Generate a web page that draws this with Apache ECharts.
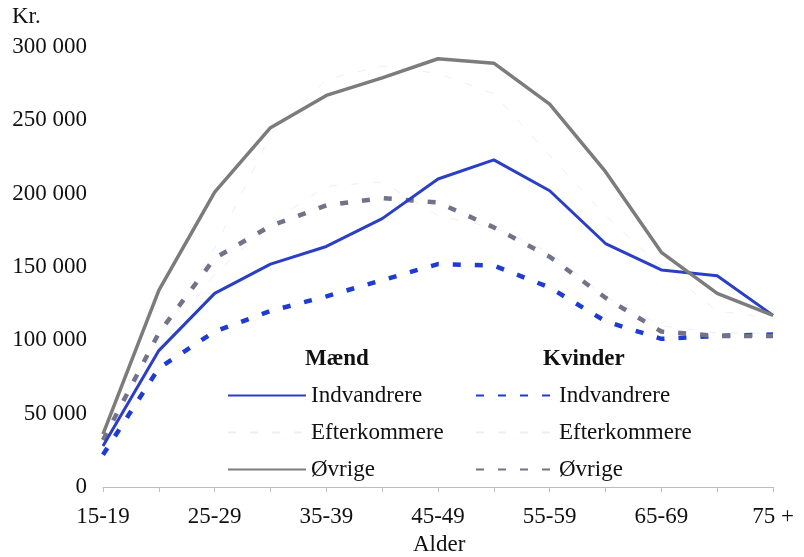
<!DOCTYPE html>
<html>
<head>
<meta charset="utf-8">
<script src="https://cdn.jsdelivr.net/npm/echarts@6/dist/echarts.min.js"></script>
<style>html,body{margin:0;padding:0;background:#fff}#c{width:804px;height:557px}</style>
</head>
<body>
<div id="c"></div>
<script>
var categories = ['15-19','20-24','25-29','30-34','35-39','40-44','45-49','50-54','55-59','60-64','65-69','70-74','75 +'];
var maendIndvandrere = [28000, 93000, 132000, 152000, 164000, 183000, 210000, 223000, 202000, 166000, 148000, 144000, 117000];
var maendEfterkommere = [30000, 100000, 163000, 240000, 278000, 287000, 282000, 268000, 226000, 185000, 150000, 120000, 115000];
var maendOevrige = [36000, 134000, 201000, 245000, 267000, 279000, 292000, 289000, 261000, 215000, 160000, 132000, 117000];
var kvinderIndvandrere = [22000, 81000, 106000, 120000, 130000, 141000, 152000, 151000, 136000, 113000, 101000, 103000, 104000];
var kvinderEfterkommere = [27000, 95000, 145000, 180000, 205000, 208000, 185000, 177000, 160000, 130000, 110000, 105000, 105000];
var kvinderOevrige = [32000, 105000, 156000, 178000, 192000, 197000, 194000, 177000, 157000, 129000, 106000, 103000, 103000];
var yTicks = [0, 50000, 100000, 150000, 200000, 250000, 300000];

var FONT = 'Liberation Serif';
var FS = 23;
function fmt(v){ return v === 0 ? '0' : String(v).replace(/\B(?=(\d{3})+(?!\d))/g, ' '); }

var chart = echarts.init(document.getElementById('c'));
function line(name, data, color, width, dashed, opacity, z){
  return {
    name: name, type: 'line', data: data, symbol: 'none', z: z,
    lineStyle: { color: color, width: width, type: dashed ? [8, 14] : 'solid', opacity: opacity, cap: 'butt' },
    itemStyle: { color: color, opacity: 0 },
    emphasis: { disabled: true }, animation: false
  };
}
var legendText = { fontFamily: FONT, fontSize: FS, color: '#111', lineHeight: 22 };
var legendCommon = {
  orient: 'vertical', itemWidth: 78, itemHeight: 14, itemGap: 14, textStyle: legendText,
  selectedMode: false, itemStyle: { opacity: 0 },
  formatter: function(n){ return n.split('|')[1]; }
};
chart.setOption({
  animation: false,
  grid: { left: 103, right: 31, top: 47, bottom: 70, containLabel: false },
  xAxis: {
    type: 'category', data: categories, boundaryGap: false,
    axisLine: { lineStyle: { color: '#bdbdbd', width: 1 } },
    axisTick: { show: true, interval: 0, length: 5, lineStyle: { color: '#bdbdbd' } },
    axisLabel: { interval: 1, margin: 18, fontFamily: FONT, fontSize: FS, color: '#111' },
    splitLine: { show: false }
  },
  yAxis: {
    type: 'value', min: yTicks[0], max: yTicks[yTicks.length - 1], interval: yTicks[1] - yTicks[0],
    axisLine: { show: false }, axisTick: { show: false }, splitLine: { show: false },
    axisLabel: { margin: 16, fontFamily: FONT, fontSize: FS, color: '#111', formatter: fmt }
  },
  legend: [
    Object.assign({ data: ['M|Indvandrere','M|Efterkommere','M|Øvrige'], left: 222, top: 379 }, legendCommon),
    Object.assign({ data: ['K|Indvandrere','K|Efterkommere','K|Øvrige'], left: 470, top: 379 }, legendCommon)
  ],
  graphic: [
    { type: 'text', left: 12, top: 5, style: { text: 'Kr.', font: FS + 'px "Liberation Serif"', fill: '#111' } },
    { type: 'text', left: 305, top: 348, style: { text: 'Mænd', font: 'bold ' + FS + 'px "Liberation Serif"', fill: '#111' } },
    { type: 'text', left: 543, top: 348, style: { text: 'Kvinder', font: 'bold ' + FS + 'px "Liberation Serif"', fill: '#111' } },
    { type: 'text', left: 413, top: 533, style: { text: 'Alder', font: FS + 'px "Liberation Serif"', fill: '#111' } }
  ],
  series: [
    line('M|Efterkommere', maendEfterkommere, '#b8cde0', 1, [2, 6], 0.3, 1),
    line('K|Efterkommere', kvinderEfterkommere, '#b8cde0', 1, true, 0.3, 1),
    line('K|Indvandrere', kvinderIndvandrere, '#1f3cd2', 4.5, true, 1, 2),
    line('K|Øvrige', kvinderOevrige, '#727288', 4.5, true, 1, 3),
    line('M|Indvandrere', maendIndvandrere, '#2b3fc6', 3, false, 1, 4),
    line('M|Øvrige', maendOevrige, '#7c7c7c', 3.5, false, 1, 4)
  ]
});
</script>
</body>
</html>
